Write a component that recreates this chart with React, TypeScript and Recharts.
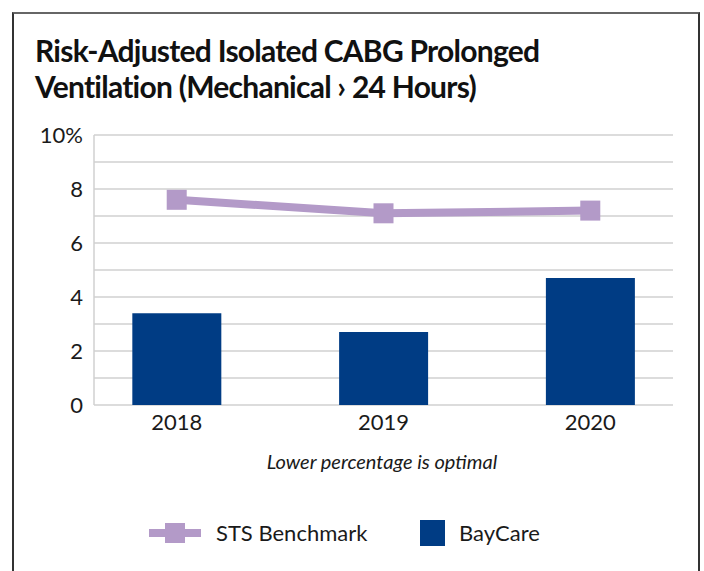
import { ComposedChart, Bar, Line, XAxis, YAxis, CartesianGrid } from "recharts";

const years = ["2018", "2019", "2020"];
const bayCare = [3.4, 2.7, 4.7];
const stsBenchmark = [7.6, 7.1, 7.2];
const yTicks = [0, 1, 2, 3, 4, 5, 6, 7, 8, 9, 10];

const BAR_COLOR = "#003c84";
const LINE_COLOR = "#b39ac8";
const FONT = "Lato, 'Open Sans', sans-serif";

const data = years.map((y, i) => ({
  idx: i,
  year: y,
  bayCare: bayCare[i],
  sts: stsBenchmark[i],
}));

// square markers like the original
const SquareDot = (props: any) => {
  const { cx, cy, index } = props;
  if (cx == null || cy == null) return null;
  return <rect key={`dot-${index}`} x={cx - 10} y={cy - 10} width={20} height={20} fill={LINE_COLOR} />;
};

export default function App() {
  return (
    <div
      style={{
        position: "absolute",
        left: 0,
        top: 0,
        width: 704,
        height: 571,
        overflow: "hidden",
        background: "#fff",
        fontFamily: FONT,
        color: "#1a1a1a",
      }}
    >
      {/* frame: left, top, right edges only */}
      <div
        style={{
          position: "absolute",
          left: 12,
          top: 12,
          width: 684,
          height: 600,
          borderLeft: "2px solid #333",
          borderTop: "2px solid #666",
          borderRight: "2px solid #333",
        }}
      />
      <div
        style={{
          position: "absolute",
          left: 35,
          top: 32,
          fontSize: 30,
          fontWeight: 700,
          lineHeight: "36px",
          letterSpacing: "-0.75px",
          color: "#111",
        }}
      >
        Risk-Adjusted Isolated CABG Prolonged
        <br />
        Ventilation (Mechanical › 24 Hours)
      </div>

      <div style={{ position: "absolute", left: 0, top: 0 }}>
        <ComposedChart
          width={704}
          height={571}
          data={data}
          margin={{ top: 135, right: 31, bottom: 136, left: 34 }}
        >
          <CartesianGrid vertical={false} stroke="#d0d0d0" strokeWidth={1.5} />
          <XAxis
            dataKey="idx"
            type="number"
            domain={[-0.4, 2.4]}
            ticks={[0, 1, 2]}
            tickFormatter={(v) => years[v] ?? ""}
            axisLine={false}
            tickLine={false}
            height={30}
            tick={{ fill: "#1a1a1a", fontSize: 22, fontFamily: FONT }}
            tickMargin={3}
          />
          <YAxis
            domain={[0, 10]}
            ticks={yTicks}
            interval={0}
            tickFormatter={(v) => (v % 2 !== 0 ? "" : v === 10 ? "10%" : String(v))}
            axisLine={{ stroke: "#d0d0d0", strokeWidth: 1.5 }}
            tickLine={false}
            width={60}
            tickMargin={5}
            tick={{ fill: "#1a1a1a", fontSize: 22, fontFamily: FONT }}
          />
          <Bar dataKey="bayCare" fill={BAR_COLOR} barSize={89} isAnimationActive={false} />
          <Line
            dataKey="sts"
            stroke={LINE_COLOR}
            strokeWidth={8}
            dot={SquareDot}
            activeDot={false}
            isAnimationActive={false}
          />
        </ComposedChart>
      </div>

      <div
        style={{
          position: "absolute",
          left: 0,
          width: 764,
          top: 449,
          textAlign: "center",
          fontSize: 20,
          fontStyle: "italic",
        }}
      >
        Lower percentage is optimal
      </div>

      {/* legend */}
      <div style={{ position: "absolute", left: 149, top: 529, width: 52, height: 8, background: LINE_COLOR }} />
      <div style={{ position: "absolute", left: 165, top: 523, width: 20, height: 20, background: LINE_COLOR }} />
      <div style={{ position: "absolute", left: 216, top: 518, fontSize: 22, lineHeight: "30px" }}>STS Benchmark</div>
      <div style={{ position: "absolute", left: 420, top: 520, width: 25, height: 26, background: BAR_COLOR }} />
      <div style={{ position: "absolute", left: 459, top: 518, fontSize: 22, lineHeight: "30px" }}>BayCare</div>
    </div>
  );
}
